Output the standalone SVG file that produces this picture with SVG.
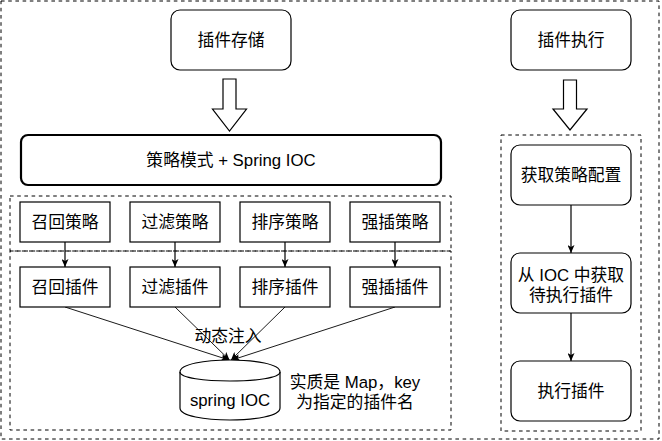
<svg xmlns="http://www.w3.org/2000/svg" width="662" height="441" viewBox="0 0 662 441">
<style>
text{font-family:"Liberation Sans","Noto Sans CJK SC",sans-serif;font-size:16.8px;fill:#000;text-anchor:middle}
.dash{fill:none;stroke:#000;stroke-width:1;stroke-dasharray:3.6 3.6}
.box{fill:#fff;stroke:#000;stroke-width:1.2}
.thick{fill:#fff;stroke:#000;stroke-width:2.2}
.edge{fill:none;stroke:#000;stroke-width:1.2}
.thin{fill:none;stroke:#000;stroke-width:0.9}
.blk{fill:#fff;stroke:#000;stroke-width:1.2;stroke-linejoin:miter}
</style>
<defs>
<marker id="arr" viewBox="0 0 8 7" refX="8" refY="3.5" markerWidth="8" markerHeight="7" markerUnits="userSpaceOnUse" orient="auto">
<path d="M0,0 L8,3.5 L0,7 L2,3.5 Z" fill="#000"/>
</marker>
</defs>
<rect width="662" height="441" fill="#fff"/>
<g id="containers">
<rect class="dash" x="1" y="1" width="658" height="438"/>
<rect class="dash" x="10" y="196" width="441" height="55"/>
<rect class="dash" x="10" y="251" width="441" height="179"/>
<rect class="dash" x="501" y="135" width="140" height="296"/>
</g>
<g id="connectors">
<path class="blk" d="M223,79 H236 V109 H246.5 L229.5,131 L212.5,109 H223 Z"/>
<path class="blk" d="M563.5,80 H576.5 V109 H587 L570,130 L553,109 H563.5 Z"/>
<line class="edge" x1="65" y1="242" x2="65" y2="267" marker-end="url(#arr)"/>
<line class="edge" x1="175" y1="242" x2="175" y2="267" marker-end="url(#arr)"/>
<line class="edge" x1="285" y1="242" x2="285" y2="267" marker-end="url(#arr)"/>
<line class="edge" x1="395" y1="242" x2="395" y2="267" marker-end="url(#arr)"/>
<line class="thin" x1="65" y1="307" x2="229" y2="360" marker-end="url(#arr)"/>
<line class="thin" x1="175" y1="307" x2="229.5" y2="360" marker-end="url(#arr)"/>
<line class="thin" x1="285" y1="307" x2="231" y2="360" marker-end="url(#arr)"/>
<line class="thin" x1="395" y1="307" x2="232" y2="360" marker-end="url(#arr)"/>
<line class="edge" x1="571" y1="205" x2="571" y2="253" marker-end="url(#arr)"/>
<line class="edge" x1="571" y1="313" x2="571" y2="361" marker-end="url(#arr)"/>
<text x="228" y="342">动态注入</text>
</g>
<g id="plugin-store">
<rect class="box" x="171" y="10" width="120" height="60" rx="9"/>
<text x="231" y="46">插件存储</text>
</g>
<g id="plugin-exec">
<rect class="box" x="511" y="10" width="120" height="60" rx="9"/>
<text x="571" y="46">插件执行</text>
</g>
<g id="strategy-ioc">
<rect class="thick" x="21" y="135" width="420" height="50" rx="7"/>
<text x="231" y="166">策略模式 + Spring IOC</text>
</g>
<g id="s-recall"><rect class="box" x="20" y="202" width="90" height="40"/><text x="65" y="228">召回策略</text></g>
<g id="s-filter"><rect class="box" x="130" y="202" width="90" height="40"/><text x="175" y="228">过滤策略</text></g>
<g id="s-sort"><rect class="box" x="240" y="202" width="90" height="40"/><text x="285" y="228">排序策略</text></g>
<g id="s-insert"><rect class="box" x="350" y="202" width="90" height="40"/><text x="395" y="228">强插策略</text></g>
<g id="p-recall"><rect class="box" x="20" y="267" width="90" height="40"/><text x="65" y="293">召回插件</text></g>
<g id="p-filter"><rect class="box" x="130" y="267" width="90" height="40"/><text x="175" y="293">过滤插件</text></g>
<g id="p-sort"><rect class="box" x="240" y="267" width="90" height="40"/><text x="285" y="293">排序插件</text></g>
<g id="p-insert"><rect class="box" x="350" y="267" width="90" height="40"/><text x="395" y="293">强插插件</text></g>
<g id="spring-ioc">
<path class="box" d="M180,372 C180,356 280,356 280,372 L280,408 C280,424 180,424 180,408 Z"/>
<path class="edge" d="M180,372 C180,384 280,384 280,372"/>
<text x="230" y="406">spring IOC</text>
</g>
<g id="note">
<text x="355" y="388">实质是 Map，key</text>
<text x="355" y="408">为指定的插件名</text>
</g>
<g id="get-config">
<rect class="box" x="511" y="145" width="120" height="60" rx="9"/>
<text x="571" y="181">获取策略配置</text>
</g>
<g id="get-plugin">
<rect class="box" x="511" y="253" width="120" height="60" rx="9"/>
<text x="571" y="281">从 IOC 中获取</text>
<text x="571" y="301">待执行插件</text>
</g>
<g id="run-plugin">
<rect class="box" x="511" y="361" width="120" height="60" rx="9"/>
<text x="571" y="397">执行插件</text>
</g>
</svg>
